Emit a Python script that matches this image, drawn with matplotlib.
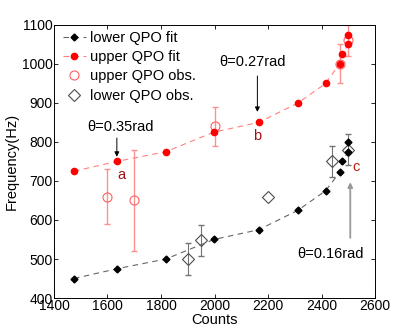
import matplotlib
matplotlib.use("Agg")
import matplotlib.pyplot as plt

plt.rcParams['font.family'] = ['Liberation Sans', 'DejaVu Sans']

# Fit curves
fit_counts = [1475, 1635, 1818, 1997, 2165, 2312, 2415, 2467, 2477, 2500, 2500]
upper_fit = [725, 750, 775, 825, 850, 900, 950, 1000, 1025, 1050, 1075]
lower_fit = [450, 475, 500, 550, 575, 625, 675, 722, 750, 775, 800]

# Observations
upper_obs_counts = [1600, 1700, 2000, 2470, 2500]
upper_obs_freq = [660, 650, 840, 1000, 1060]
upper_obs_err = [70, 130, 50, 50, 40]

lower_obs_counts = [1900, 1950, 2200, 2440, 2500]
lower_obs_freq = [500, 548, 658, 750, 780]
lower_obs_err = [40, 40, 0, 40, 40]

FS = 10.5

fig = plt.figure(figsize=(4.15, 3.36), dpi=100)
ax = fig.add_axes([0.130, 0.113, 0.774, 0.813])

ax.plot(fit_counts, lower_fit, linestyle=(0, (5, 4)), color='0.4', lw=0.8,
        marker='D', markersize=3.5, markerfacecolor='black', markeredgecolor='black',
        label='lower QPO fit', zorder=3)
ax.plot(fit_counts, upper_fit, linestyle=(0, (5, 4)), color='#ff8080', lw=0.8,
        marker='o', markersize=4.5, markerfacecolor='red', markeredgecolor='red',
        label='upper QPO fit', zorder=3)

ax.errorbar(upper_obs_counts, upper_obs_freq, yerr=upper_obs_err, fmt='none',
            ecolor='#ff9090', elinewidth=1.0, capsize=2.5, zorder=2)
ax.plot(upper_obs_counts, upper_obs_freq, 'o', markersize=6.5, markerfacecolor='none',
        markeredgecolor='#ff6060', mew=0.8, label='upper QPO obs.', zorder=2)
ax.errorbar(lower_obs_counts, lower_obs_freq,
            yerr=[e if e > 0 else float('nan') for e in lower_obs_err], fmt='none',
            ecolor='0.45', elinewidth=0.8, capsize=2.5, zorder=2)
ax.plot(lower_obs_counts, lower_obs_freq, 'D', markersize=6, markerfacecolor='none',
        markeredgecolor='0.3', mew=0.8, label='lower QPO obs.', zorder=2)

ax.set_xlim(1400, 2600)
ax.set_ylim(400, 1100)
ax.set_xticks([1400, 1600, 1800, 2000, 2200, 2400, 2600])
ax.set_yticks([400, 500, 600, 700, 800, 900, 1000, 1100])
ax.tick_params(direction='in', top=True, right=True, labelsize=10, length=3, width=0.6, pad=1)
for s in ax.spines.values():
    s.set_linewidth(0.7)
ax.set_xlabel('Counts', fontsize=FS, labelpad=0)
ax.set_ylabel('Frequency(Hz)', fontsize=FS, labelpad=2)

ax.legend(loc='upper left', frameon=False, fontsize=FS, handlelength=1.6,
          handletextpad=0.3, labelspacing=0.36, borderaxespad=0.2,
          bbox_to_anchor=(0.0, 1.01))

arrow_k = dict(arrowstyle='-|>', color='black', lw=0.7, mutation_scale=7,
               shrinkA=0, shrinkB=0)
# a
ax.text(1648, 838, 'θ=0.35rad', fontsize=FS, ha='center', va='center')
ax.annotate('', xy=(1635, 762), xytext=(1635, 810), arrowprops=arrow_k)
ax.text(1652, 714, 'a', color='#a01010', fontsize=FS, ha='center', va='center')
# b
ax.text(2142, 1005, 'θ=0.27rad', fontsize=FS, ha='center', va='center')
ax.annotate('', xy=(2160, 877), xytext=(2160, 969), arrowprops=arrow_k)
ax.text(2160, 816, 'b', color='#a01010', fontsize=FS, ha='center', va='center')
# c
ax.text(2433, 513, 'θ=0.16rad', fontsize=FS, ha='center', va='center')
ax.annotate('', xy=(2507, 697), xytext=(2507, 554),
            arrowprops=dict(arrowstyle='-|>', color='0.6', lw=1.3, mutation_scale=7,
                            shrinkA=0, shrinkB=0))
ax.text(2528, 735, 'c', color='#c02010', fontsize=FS, ha='center', va='center')

fig.savefig('out.png', dpi=100)
